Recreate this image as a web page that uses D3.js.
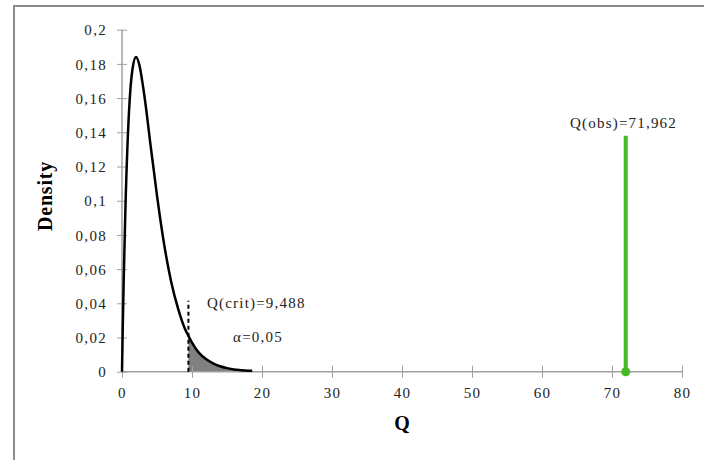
<!DOCTYPE html>
<html>
<head>
<meta charset="utf-8">
<script src="https://cdn.jsdelivr.net/npm/d3@7"></script>
<style>
  body { margin: 0; background: #fff; overflow: hidden; }
  svg { display: block; }
  .tick text { font-family: "Liberation Serif", serif; font-size: 15px; fill: #222; letter-spacing: 1.3px; }
</style>
</head>
<body>
<svg id="chart" width="704" height="463"></svg>
<script>
// density curve (chi-square, 4 df)
const qValues = [0, 0.1, 0.25, 0.5, 1, 1.5, 2, 2.5, 3, 3.5, 4, 5, 6, 7, 8, 9, 9.488, 10, 11, 12, 13, 14, 15, 16, 17, 18, 18.6];
const densityValues = [0, 0.024, 0.055, 0.097, 0.152, 0.177, 0.184, 0.179, 0.167, 0.152, 0.135, 0.103, 0.075, 0.053, 0.037, 0.025, 0.021, 0.017, 0.011, 0.0074, 0.0049, 0.0032, 0.0021, 0.0013, 0.0009, 0.0006, 0.0005];

const xTicks = [0, 10, 20, 30, 40, 50, 60, 70, 80];
const yTicks = [0, 0.02, 0.04, 0.06, 0.08, 0.1, 0.12, 0.14, 0.16, 0.18, 0.2];
const yTickLabels = ['0', '0,02', '0,04', '0,06', '0,08', '0,1', '0,12', '0,14', '0,16', '0,18', '0,2'];

const qCrit = 9.488;
const critLineTop = 0.0415;
const qObs = 71.962;
const obsLineTop = 0.138;

const svg = d3.select('#chart');
const margin = { top: 29.7, left: 122, right: 22, bottom: 91.3 };
const width = 704, height = 463;

// outer frame (only top and left edges show in the picture)
svg.append('path')
    .attr('d', 'M14,460V6H704')
    .attr('fill', 'none')
    .attr('stroke', '#8c8c8c')
    .attr('stroke-width', 2);

const x = d3.scaleLinear().domain([0, 80]).range([margin.left, width - margin.right]);
const y = d3.scaleLinear().domain([0, 0.2]).range([height - margin.bottom, margin.top]);

const pts = qValues.map((q, i) => ({ q, d: densityValues[i] }));

// shaded rejection region
const tail = pts.filter(p => p.q >= qCrit);
const area = d3.area()
    .x(p => x(p.q))
    .y0(y(0))
    .y1(p => y(p.d))
    .curve(d3.curveMonotoneX);
svg.append('path')
    .datum(tail)
    .attr('d', area)
    .attr('fill', '#808080');

// axes
const yAxis = svg.append('g')
    .attr('transform', `translate(${x(0)},0)`)
    .call(d3.axisLeft(y).tickValues(yTicks).tickFormat((d, i) => yTickLabels[i]).tickSize(5));
yAxis.select('.domain').attr('stroke', '#a0a0a0').attr('stroke-width', 1.5)
    .attr('d', `M0,${y(0)}V${y(0.2)}`);
yAxis.selectAll('.tick line').attr('x1', -5).attr('x2', 5).attr('stroke', '#a0a0a0');
yAxis.selectAll('.tick text').attr('x', -15).attr('dy', '0.35em');

const xAxis = svg.append('g')
    .attr('transform', `translate(0,${y(0)})`)
    .call(d3.axisBottom(x).tickValues(xTicks).tickFormat(d3.format('d')).tickSize(5));
xAxis.select('.domain').attr('stroke', '#a0a0a0').attr('stroke-width', 1.5)
    .attr('d', `M${x(0)},0H${x(80)}`);
xAxis.selectAll('.tick line').attr('y1', -6).attr('y2', 6).attr('stroke', '#a0a0a0');
xAxis.selectAll('.tick text').attr('y', 26).attr('dy', 0);

// density curve
const line = d3.line()
    .x(p => x(p.q))
    .y(p => y(p.d))
    .curve(d3.curveMonotoneX);
svg.append('path')
    .datum(pts)
    .attr('d', line)
    .attr('fill', 'none')
    .attr('stroke', '#000')
    .attr('stroke-width', 2.5);

// critical value marker
svg.append('line')
    .attr('x1', x(qCrit)).attr('x2', x(qCrit))
    .attr('y1', y(0)).attr('y2', y(critLineTop))
    .attr('stroke', '#000')
    .attr('stroke-width', 2)
    .attr('stroke-dasharray', '4,3');

// observed value marker
svg.append('line')
    .attr('x1', x(qObs)).attr('x2', x(qObs))
    .attr('y1', y(0)).attr('y2', y(obsLineTop))
    .attr('stroke', '#44bb22')
    .attr('stroke-width', 4);
svg.append('circle')
    .attr('cx', x(qObs)).attr('cy', y(0))
    .attr('r', 4.5)
    .attr('fill', '#44bb22');

// annotations
const label = (tx, ty, txt, anchor) => svg.append('text')
    .attr('x', tx).attr('y', ty)
    .attr('text-anchor', anchor || 'start')
    .attr('font-family', '"Liberation Serif", serif')
    .attr('font-size', 15)
    .attr('letter-spacing', 1.2)
    .attr('fill', '#222')
    .text(txt);

label(207, 308, 'Q(crit)=9,488');
label(258, 342, 'α=0,05', 'middle');
label(677, 128, 'Q(obs)=71,962', 'end');

// axis titles
svg.append('text')
    .attr('transform', `translate(52,196) rotate(-90)`)
    .attr('text-anchor', 'middle')
    .attr('font-family', '"Liberation Serif", serif')
    .attr('font-weight', 'bold')
    .attr('font-size', 20)
    .attr('letter-spacing', 0.8)
    .text('Density');

svg.append('text')
    .attr('x', x(40)).attr('y', 430)
    .attr('text-anchor', 'middle')
    .attr('font-family', '"Liberation Serif", serif')
    .attr('font-weight', 'bold')
    .attr('font-size', 20)
    .text('Q');
</script>
</body>
</html>
